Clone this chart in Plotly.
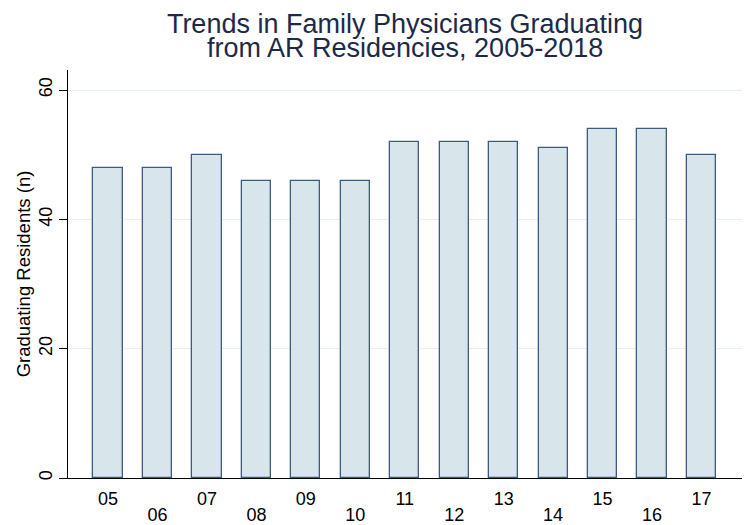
import plotly.graph_objects as go

years = ["05", "06", "07", "08", "09", "10", "11", "12", "13", "14", "15", "16", "17"]
residents = [48, 48, 50, 46, 46, 46, 52, 52, 52, 51, 54, 54, 50]
y_ticks = [0, 20, 40, 60]
title_lines = ["Trends in Family Physicians Graduating", "from AR Residencies, 2005-2018"]

positions = list(range(len(years)))
odd_pos = positions[0::2]
even_pos = positions[1::2]

fig = go.Figure()
fig.add_trace(go.Bar(
    x=positions,
    y=residents,
    width=0.59,
    marker=dict(color="#d8e5eb", line=dict(color="#3d5b7e", width=1.3)),
    hoverinfo="skip",
))
# invisible helper so the second (staggered) label axis is drawn
fig.add_trace(go.Scatter(
    x=[positions[0]], y=[0], xaxis="x2", mode="markers",
    marker=dict(opacity=0), hoverinfo="skip", showlegend=False,
))

XR = [-0.81, 12.82]
fig.update_layout(
    width=746, height=525,
    margin=dict(l=68, r=4, t=70, b=47),
    paper_bgcolor="white", plot_bgcolor="white",
    font=dict(family="Liberation Sans, Arial, sans-serif", color="#000000"),
    showlegend=False,
    title=dict(
        text=title_lines[0],
        x=0.5, xref="paper", xanchor="center",
        y=1 - 14 / 525, yref="container", yanchor="top",
        font=dict(size=27, color="#1c2a48"),
        automargin=False,
    ),
    xaxis=dict(
        range=XR,
        tickmode="array", tickvals=odd_pos, ticktext=[years[i] for i in odd_pos],
        ticks="", showgrid=False, zeroline=False,
        showline=True, linecolor="#000000", linewidth=1.3,
        tickfont=dict(size=18), ticklabelstandoff=4,
        automargin=False,
    ),
    xaxis2=dict(
        range=XR, overlaying="x", side="bottom", anchor="y",
        tickmode="array", tickvals=even_pos, ticktext=[years[i] for i in even_pos],
        ticks="", showgrid=False, zeroline=False, showline=False,
        tickfont=dict(size=18), ticklabelstandoff=24,
        automargin=False,
    ),
    yaxis=dict(
        range=[0, 63.1],
        tickmode="array", tickvals=y_ticks, ticktext=[str(v) for v in y_ticks],
        ticks="outside", ticklen=8, tickcolor="#000000", tickwidth=1.2,
        tickangle=-90, tickfont=dict(size=18),
        showgrid=True, gridcolor="#e8f0f2", gridwidth=1.2,
        showline=True, linecolor="#000000", linewidth=1.3,
        zeroline=False, automargin=False,
        title=dict(text="Graduating Residents (n)", font=dict(size=18.5), standoff=0),
    ),
    bargap=0,
)
fig.add_annotation(
    text=title_lines[1], xref="paper", yref="paper",
    x=0.5, xanchor="center", y=(478 - 48) / 408, yanchor="middle",
    showarrow=False, font=dict(size=27, color="#1c2a48"),
)

fig.write_html(
    "out.html",
    config={"displayModeBar": False},
    post_script="document.body.style.margin='0';",
)
